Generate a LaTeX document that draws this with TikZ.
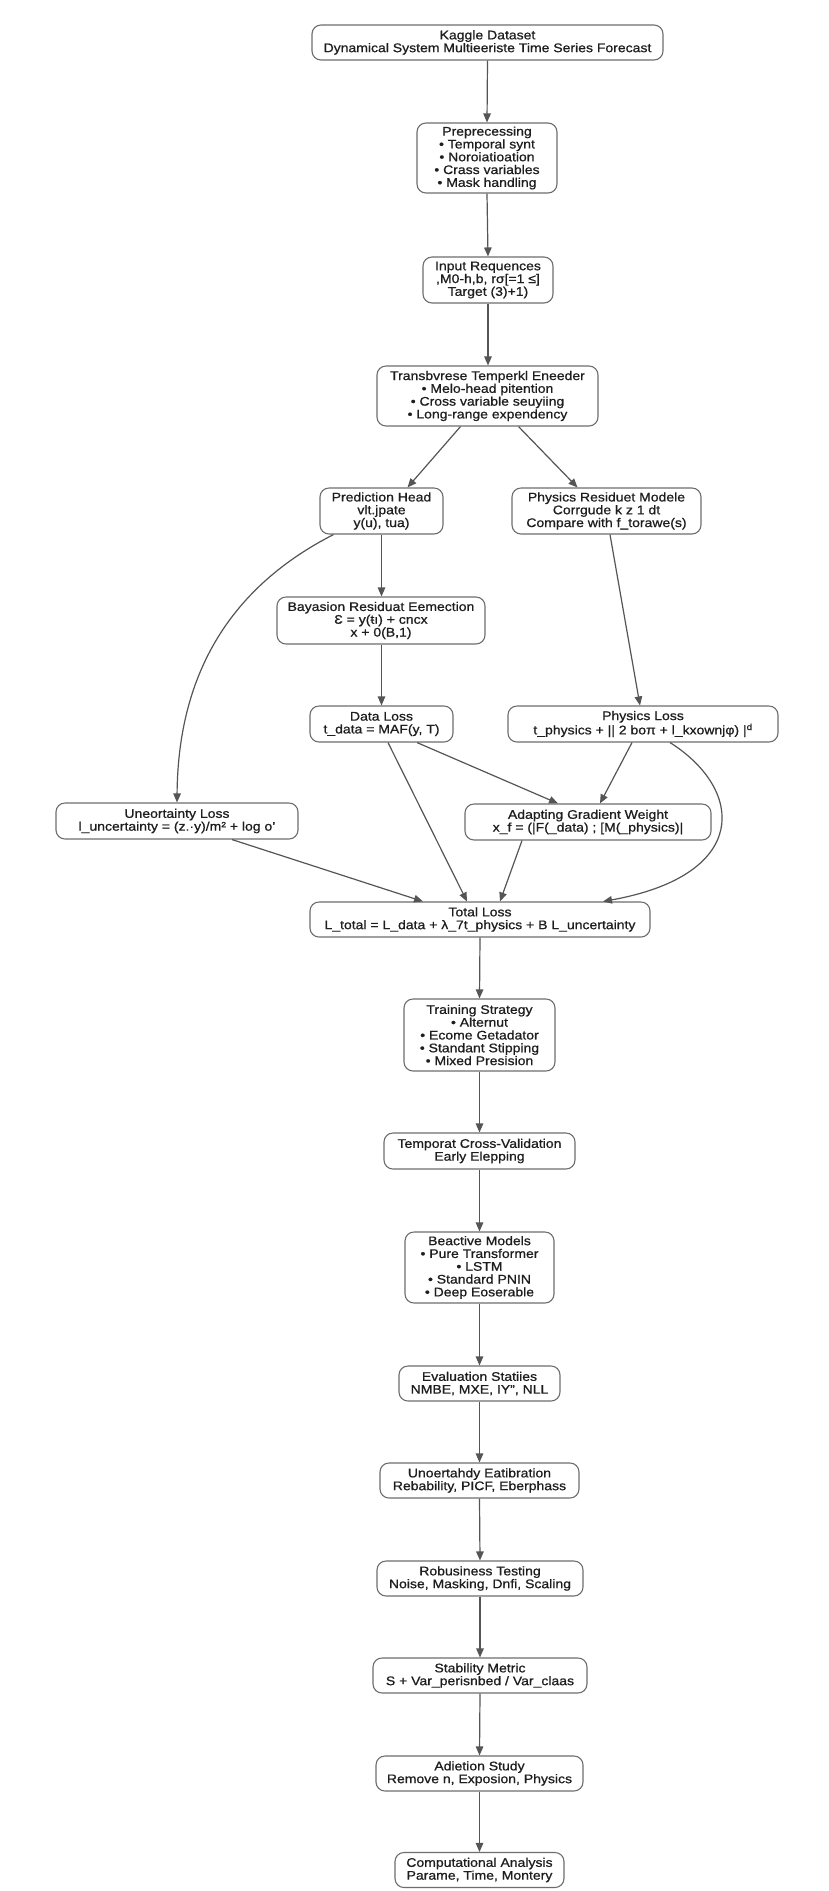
\documentclass[tikz,border=0pt]{standalone}
\usepackage{fontspec}
\setmainfont{Liberation Sans}[FakeStretch=1.12,FakeBold=0.8]
\usetikzlibrary{arrows.meta}
\definecolor{edgecol}{HTML}{555555}
\definecolor{boxcol}{HTML}{6E6E6E}
\definecolor{txtcol}{HTML}{1E1E1E}
\tikzset{
  box/.style={draw=boxcol, line width=1.1pt, rounded corners=9pt, align=center,
    inner sep=0pt, text=txtcol, fill=white, font=\fontsize{12.5}{12.8}\selectfont},
  conn/.style={draw=edgecol, line width=1.2pt, -{Triangle[length=9pt,width=7.5pt]}},
}
\begin{document}
\begin{tikzpicture}[x=1pt,y=-1pt]
\path[fill=white,use as bounding box] (0,0) rectangle (828,1891);

\node[box, minimum width=351pt, minimum height=35pt] (kaggle) at (487.5,42.5) {Kaggle Dataset\\Dynamical System Multieeriste Time Series Forecast};
\node[box, minimum width=140pt, minimum height=70pt] (prep) at (487,158) {Preprecessing\\• Temporal synt\\• Noroiatioation\\• Crass variables\\• Mask handling};
\node[box, minimum width=130pt, minimum height=46pt] (input) at (488,280) {Input Requences\\,M0-h,b, rσ[=1 ≤]\\Target (3)+1)};
\node[box, minimum width=221pt, minimum height=60pt] (enc) at (487.5,396) {Transbvrese Temperkl Eneeder\\• Melo-head pitention\\• Cross variable seuyiing\\• Long-range expendency};
\node[box, minimum width=123pt, minimum height=46pt] (pred) at (381.5,511) {Prediction Head\\vlt.jpate\\y(u), tua)};
\node[box, minimum width=189pt, minimum height=46pt] (phys) at (606.5,511) {Physics Residuet Modele\\Corrgude k z 1 dt\\Compare with f\_torawe(s)};
\node[box, minimum width=208pt, minimum height=47pt] (bayes) at (381,620.5) {Bayasion Residuat Eemection\\Ɛ = y(ŧı) + cncx\\x + 0(B,1)};
\node[box, minimum width=143pt, minimum height=36pt] (dloss) at (381.5,724) {Data Loss\\t\_data = MAF(y, T)};
\node[box, minimum width=270pt, minimum height=36pt] (ploss) at (643,724) {Physics Loss\\t\_physics + || 2 boπ + l\_kxownjφ) |\textsuperscript{d}};
\node[box, minimum width=242pt, minimum height=36pt] (uloss) at (177,821) {Uneortainty Loss\\l\_uncertainty = (z.·y)/m² + log o'};
\node[box, minimum width=246pt, minimum height=36pt] (adapt) at (588,822) {Adapting Gradient Weight\\x\_f = (|F(\_data) ; [M(\_physics)|};
\node[box, minimum width=340pt, minimum height=35pt] (total) at (480,919.5) {Total Loss\\L\_total = L\_data + λ\_7t\_physics + B L\_uncertainty};
\node[box, minimum width=151pt, minimum height=72pt] (train) at (479.5,1035) {Training Strategy\\• Alternut\\• Ecome Getadator\\• Standant Stipping\\• Mixed Presision};
\node[box, minimum width=191pt, minimum height=36pt] (cv) at (479.5,1151) {Temporat Cross-Validation\\Early Elepping};
\node[box, minimum width=149pt, minimum height=71pt] (beact) at (479.5,1267.5) {Beactive Models\\• Pure Transformer\\• LSTM\\• Standard PNIN\\• Deep Eoserable};
\node[box, minimum width=161pt, minimum height=35pt] (eval) at (479.5,1383.5) {Evaluation Statiies\\NMBE, MXE, IY", NLL};
\node[box, minimum width=199pt, minimum height=35pt] (ucal) at (479.5,1480.5) {Unoertahdy Eatibration\\Rebability, PICF, Eberphass};
\node[box, minimum width=206pt, minimum height=35pt] (robust) at (480,1578.5) {Robusiness Testing\\Noise, Masking, Dnfi, Scaling};
\node[box, minimum width=214pt, minimum height=35pt] (stab) at (480,1675.5) {Stability Metric\\S + Var\_perisnbed / Var\_claas};
\node[box, minimum width=207pt, minimum height=35pt] (abl) at (479.5,1773.5) {Adietion Study\\Remove n, Exposion, Physics};
\node[box, minimum width=169pt, minimum height=35pt] (comp) at (479.5,1870) {Computational Analysis\\Parame, Time, Montery};

% main upper column
\draw[conn] (kaggle.south) -- (prep.north);
\draw[conn] (prep.south) -- ([xshift=1pt]input.north -| prep.south);
\draw[conn] (input.south) -- (enc.north -| input.south);
\draw[conn] ([xshift=-27pt]enc.south) -- ([xshift=26pt]pred.north);
\draw[conn] ([xshift=31pt]enc.south) -- ([xshift=-29pt]phys.north);
\draw[conn] (pred.south) -- (bayes.north -| pred.south);
\draw[conn] ([xshift=-48pt]pred.south) .. controls (225,590) and (178,680) .. (uloss.north);
\draw[conn] ([xshift=3.5pt]phys.south) -- ([xshift=-3pt]ploss.north);
\draw[conn] (bayes.south -| dloss.north) -- (dloss.north);
\draw[conn] ([xshift=6.5pt]dloss.south) -- ([xshift=-13pt]total.north);
\draw[conn] ([xshift=35.5pt]dloss.south) -- ([xshift=-30pt]adapt.north);
\draw[conn] ([xshift=-11pt]ploss.south) -- ([xshift=12pt]adapt.north);
\draw[conn] ([xshift=27pt]ploss.south) .. controls (745,790) and (750,875) .. ([xshift=123pt]total.north);
\draw[conn] ([xshift=55pt]uloss.south) -- ([xshift=-57pt]total.north);
\draw[conn] ([xshift=-66pt]adapt.south) -- ([xshift=20pt]total.north);
% lower column
\draw[conn] (total.south) -- (train.north);
\draw[conn] (train.south) -- (cv.north);
\draw[conn] (cv.south) -- (beact.north);
\draw[conn] (beact.south) -- (eval.north);
\draw[conn] (eval.south) -- (ucal.north);
\draw[conn] (ucal.south) -- (robust.north);
\draw[conn] (robust.south) -- (stab.north);
\draw[conn] (stab.south) -- (abl.north);
\draw[conn] (abl.south) -- (comp.north);
\end{tikzpicture}
\end{document}
